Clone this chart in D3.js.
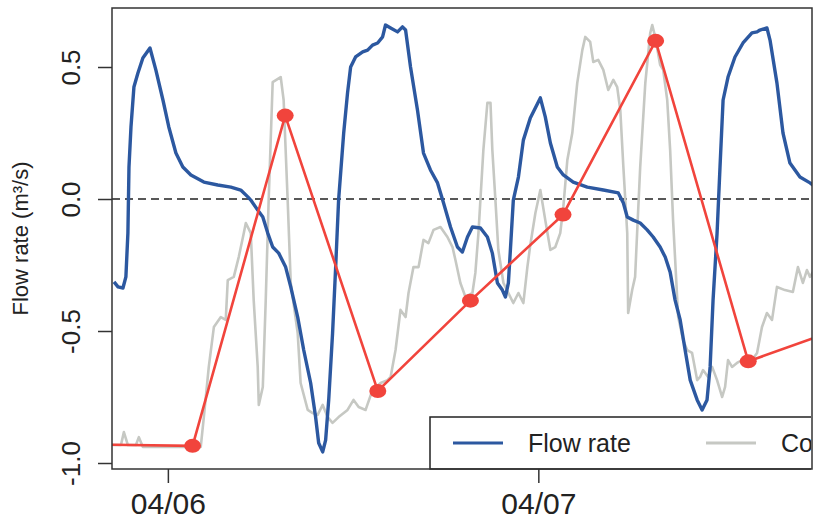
<!DOCTYPE html>
<html>
<head>
<meta charset="utf-8">
<script src="https://cdn.jsdelivr.net/npm/d3@7"></script>
<style>
  body { margin: 0; background: #fff; }
  svg { display: block; font-family: 'Liberation Sans', Arial, sans-serif; }
</style>
</head>
<body>
<svg width="816" height="521"></svg>
<script>
// hours since 04/06 00:00
const flowHours = [-3.49, -3.23, -2.91, -2.72, -2.59, -2.52, -2.39, -2.2, -1.94, -1.62, -1.16, -0.78, -0.32, 0.06, 0.52, 0.97, 1.49, 2.33, 3.23, 4.08, 4.72, 5.18, 5.37, 5.82, 6.15, 6.47, 6.79, 7.18, 7.63, 7.96, 8.41, 8.8, 9.25, 9.57, 9.77, 10.03, 10.22, 10.42, 10.67, 10.87, 11.06, 11.39, 11.64, 11.84, 12.16, 12.62, 12.94, 13.26, 13.59, 13.91, 14.1, 14.43, 14.88, 15.2, 15.4, 15.72, 16.17, 16.56, 17.01, 17.47, 17.86, 18.31, 18.76, 19.08, 19.41, 19.73, 20.25, 20.7, 21.02, 21.35, 21.67, 21.87, 22.06, 22.19, 22.38, 22.71, 23.03, 23.48, 24.13, 24.45, 24.78, 25.23, 25.62, 26.26, 27.17, 28.21, 29.18, 29.51, 29.76, 30.15, 30.6, 31.05, 31.44, 31.89, 32.22, 32.54, 32.86, 33.19, 33.51, 33.84, 34.29, 34.61, 34.93, 35.13, 35.32, 35.58, 35.77, 35.97, 36.29, 36.74, 37.26, 37.84, 38.17, 38.36, 38.81, 39.01, 39.46, 39.85, 40.3, 40.95, 41.6, 41.98];
const flowValues = [-0.314, -0.333, -0.337, -0.295, -0.129, 0.121, 0.273, 0.424, 0.477, 0.534, 0.572, 0.489, 0.375, 0.273, 0.174, 0.121, 0.091, 0.064, 0.053, 0.045, 0.034, 0.008, -0.004, -0.042, -0.068, -0.129, -0.182, -0.205, -0.258, -0.333, -0.447, -0.572, -0.697, -0.826, -0.924, -0.958, -0.913, -0.761, -0.508, -0.258, -0.004, 0.25, 0.402, 0.5, 0.538, 0.557, 0.564, 0.583, 0.591, 0.614, 0.659, 0.648, 0.633, 0.652, 0.64, 0.5, 0.337, 0.174, 0.11, 0.061, -0.015, -0.106, -0.182, -0.201, -0.144, -0.106, -0.11, -0.144, -0.205, -0.318, -0.345, -0.371, -0.318, -0.193, -0.004, 0.083, 0.223, 0.307, 0.383, 0.311, 0.212, 0.121, 0.091, 0.064, 0.045, 0.034, 0.023, -0.015, -0.068, -0.08, -0.091, -0.117, -0.144, -0.182, -0.22, -0.277, -0.383, -0.458, -0.572, -0.686, -0.761, -0.799, -0.761, -0.636, -0.383, -0.129, 0.121, 0.375, 0.462, 0.538, 0.591, 0.629, 0.633, 0.64, 0.648, 0.602, 0.439, 0.25, 0.136, 0.083, 0.061, 0.045];

const concHours = [-3.69, -3.04, -2.85, -2.59, -2.07, -1.88, -1.62, 2.13, 2.33, 2.65, 2.98, 3.43, 3.75, 3.88, 4.27, 4.59, 4.92, 5.05, 5.37, 5.56, 5.82, 5.89, 6.15, 6.34, 6.53, 6.79, 7.31, 7.5, 7.76, 7.96, 8.41, 8.6, 9.06, 9.38, 9.7, 10.03, 10.35, 10.67, 11.06, 11.64, 12.03, 12.36, 12.81, 13.26, 13.78, 14.23, 14.43, 14.75, 15.07, 15.4, 15.59, 15.91, 16.24, 16.56, 16.88, 17.21, 17.66, 18.11, 18.44, 18.63, 18.95, 19.28, 19.73, 19.92, 20.12, 20.44, 20.7, 20.9, 21.02, 21.22, 21.41, 21.74, 22.06, 22.38, 22.71, 23.03, 23.29, 23.48, 23.81, 24.13, 24.45, 24.78, 25.1, 25.42, 25.62, 25.88, 26.2, 26.52, 26.85, 27.04, 27.36, 27.56, 27.88, 28.21, 28.53, 28.86, 29.11, 29.31, 29.51, 29.76, 29.82, 30.08, 30.27, 30.4, 30.6, 30.93, 31.25, 31.38, 31.57, 31.89, 32.09, 32.35, 32.54, 32.73, 33.06, 33.38, 33.64, 33.96, 34.29, 34.48, 34.67, 35.0, 35.26, 35.58, 35.91, 36.1, 36.29, 36.55, 36.87, 37.2, 37.71, 38.17, 38.49, 38.81, 39.14, 39.46, 39.98, 40.49, 40.82, 41.14, 41.4, 41.6, 41.98];
const concValues = [-0.932, -0.932, -0.883, -0.932, -0.932, -0.902, -0.939, -0.939, -0.826, -0.636, -0.485, -0.447, -0.458, -0.307, -0.295, -0.22, -0.129, -0.091, -0.129, -0.383, -0.636, -0.78, -0.712, -0.383, -0.004, 0.443, 0.462, 0.375, -0.004, -0.318, -0.508, -0.697, -0.799, -0.811, -0.818, -0.78, -0.826, -0.848, -0.826, -0.799, -0.761, -0.788, -0.799, -0.723, -0.697, -0.686, -0.674, -0.572, -0.42, -0.447, -0.356, -0.258, -0.258, -0.155, -0.167, -0.117, -0.106, -0.144, -0.182, -0.231, -0.318, -0.371, -0.356, -0.28, -0.129, 0.186, 0.364, 0.364, 0.186, -0.004, -0.193, -0.318, -0.356, -0.394, -0.356, -0.394, -0.258, -0.174, -0.053, 0.034, -0.08, -0.193, -0.182, -0.129, -0.03, 0.148, 0.25, 0.439, 0.564, 0.614, 0.595, 0.519, 0.527, 0.489, 0.413, 0.451, 0.424, 0.337, 0.121, -0.129, -0.432, -0.345, -0.295, -0.129, 0.121, 0.439, 0.629, 0.659, 0.614, 0.508, 0.489, 0.375, 0.186, -0.08, -0.447, -0.534, -0.572, -0.583, -0.686, -0.674, -0.648, -0.674, -0.636, -0.686, -0.75, -0.712, -0.61, -0.636, -0.621, -0.61, -0.621, -0.583, -0.485, -0.432, -0.458, -0.333, -0.345, -0.352, -0.258, -0.318, -0.269, -0.295, -0.258];

const sampleHours = [-4.4, 1.6, 7.6, 13.6, 19.6, 25.6, 31.6, 37.6, 43.6];
const sampleValues = [-0.93, -0.935, 0.316, -0.727, -0.385, -0.059, 0.599, -0.615, -0.49];

const tickHours = [0, 24];
const tickLabels = ['04/06', '04/07'];
const yTicks = [-1.0, -0.5, 0.0, 0.5];
const legendLabels = ['Flow rate', 'Concentration'];

(function (d3) {
    'use strict';
    const svg = d3.select('svg');
    const left = 112, right = 812, top = 8, bottom = 469;

    const x = d3.scaleLinear().domain([-3.62, 41.73]).range([left, right]);
    const y = d3.scaleLinear().domain([-1.0227, 0.7235]).range([bottom, top]);

    const blue = '#2c58a0', grey = '#c6c8c3', red = '#f1443c';

    svg.append('clipPath').attr('id', 'plotClip')
      .append('rect')
        .attr('x', left).attr('y', top)
        .attr('width', right - left).attr('height', bottom - top);

    const g = svg.append('g').attr('clip-path', 'url(#plotClip)');

    // zero reference
    g.append('line')
        .attr('x1', left).attr('x2', right)
        .attr('y1', y(0)).attr('y2', y(0))
        .attr('stroke', '#222')
        .attr('stroke-width', 1.5)
        .attr('stroke-dasharray', '8,5');

    const line = d3.line()
        .x(d => x(d[0]))
        .y(d => y(d[1]));

    g.append('path')
        .datum(d3.zip(concHours, concValues))
        .attr('d', line)
        .attr('fill', 'none')
        .attr('stroke', grey)
        .attr('stroke-width', 2.6)
        .attr('stroke-linejoin', 'round');

    g.append('path')
        .datum(d3.zip(flowHours, flowValues))
        .attr('d', line)
        .attr('fill', 'none')
        .attr('stroke', blue)
        .attr('stroke-width', 3.4)
        .attr('stroke-linejoin', 'round');

    const samples = d3.zip(sampleHours, sampleValues);
    g.append('path')
        .datum(samples)
        .attr('d', line)
        .attr('fill', 'none')
        .attr('stroke', red)
        .attr('stroke-width', 2.6);

    g.selectAll('ellipse').data(samples)
      .enter().append('ellipse')
        .attr('cx', d => x(d[0]))
        .attr('cy', d => y(d[1]))
        .attr('rx', 8.5)
        .attr('ry', 7)
        .attr('fill', red);

    // axes
    const yAxis = svg.append('g')
        .attr('transform', `translate(${left},0)`)
        .call(d3.axisLeft(y).tickValues(yTicks).tickSize(14).tickFormat(d => d.toFixed(1)));
    yAxis.select('.domain').remove();
    yAxis.selectAll('line').attr('stroke', '#333').attr('stroke-width', 1.5);
    yAxis.selectAll('text')
        .attr('x', 0).attr('dy', 0)
        .attr('transform', 'translate(-32,0) rotate(-90)')
        .attr('text-anchor', 'middle')
        .attr('font-size', 26)
        .attr('fill', '#222');

    const xAxis = svg.append('g')
        .attr('transform', `translate(0,${bottom})`)
        .call(d3.axisBottom(x).tickValues(tickHours).tickSize(14)
            .tickFormat((d, i) => tickLabels[i]));
    xAxis.select('.domain').remove();
    xAxis.selectAll('line').attr('stroke', '#333').attr('stroke-width', 1.5);
    xAxis.selectAll('text')
        .attr('y', 45).attr('dy', 0)
        .attr('font-size', 30)
        .attr('fill', '#222');

    svg.append('text')
        .attr('transform', `translate(28,${(top + bottom) / 2}) rotate(-90)`)
        .attr('text-anchor', 'middle')
        .attr('font-size', 22)
        .attr('fill', '#222')
        .text('Flow rate (m³/s)');

    // legend (cut by the right edge like the original)
    svg.append('clipPath').attr('id', 'legendClip')
      .append('rect')
        .attr('x', 0).attr('y', 0)
        .attr('width', right - 1).attr('height', 521);

    const legend = svg.append('g').attr('clip-path', 'url(#legendClip)');
    legend.append('rect')
        .attr('x', 430).attr('y', 417)
        .attr('width', 420).attr('height', bottom - 417)
        .attr('fill', '#fff')
        .attr('stroke', '#222')
        .attr('stroke-width', 1.5);

    const items = legend.selectAll('g.item')
        .data(d3.zip(legendLabels, [blue, grey]))
      .enter().append('g')
        .attr('class', 'item')
        .attr('transform', (d, i) => `translate(${453 + i * 253},443)`);
    items.append('line')
        .attr('x1', 0).attr('x2', 50)
        .attr('stroke', d => d[1])
        .attr('stroke-width', 3);
    items.append('text')
        .attr('x', 75).attr('y', 9)
        .attr('font-size', 25)
        .attr('fill', '#222')
        .text(d => d[0]);

    // plot frame
    svg.append('rect')
        .attr('x', left).attr('y', top)
        .attr('width', right - left).attr('height', bottom - top)
        .attr('fill', 'none')
        .attr('stroke', '#333')
        .attr('stroke-width', 1.5);
}(d3));
</script>
</body>
</html>
